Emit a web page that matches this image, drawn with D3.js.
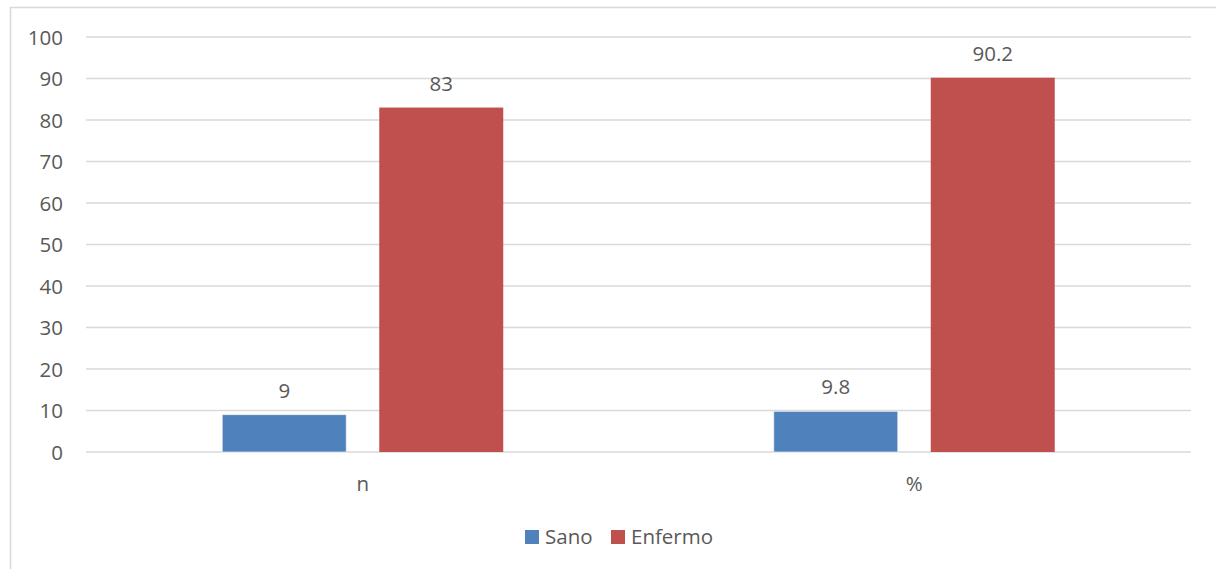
<!DOCTYPE html>
<html><head><meta charset="utf-8">
<script src="https://cdn.jsdelivr.net/npm/d3@7"></script>
<style>body{margin:0;background:#fff}svg{display:block}text{font-family:"Open Sans",sans-serif;fill:#595959}</style>
</head><body><svg id="c" width="1216" height="569"></svg>
<script>
const categories = ["n", "%"];
const seriesNames = ["Sano", "Enfermo"];
const sano = [9, 9.8];
const enfermo = [83, 90.2];
const yTicks = [0,10,20,30,40,50,60,70,80,90,100];
const colors = ["#4F81BD", "#C0504D"];

const svg = d3.select("#c");
svg.append("rect").attr("x",10.5).attr("y",7.5).attr("width",1212).attr("height",570)
  .attr("fill","#fff").attr("stroke","#D9D9D9").attr("stroke-width",1.5);

const L=87, R=1190, T=37, B=452;
const x = d3.scaleBand().domain(categories).range([L,R]);
const y = d3.scaleLinear().domain([0,100]).range([B,T]);
const barW = 124, gap = 33;
const fs = 20.5;

svg.append("g").selectAll("line").data(yTicks).join("line")
  .attr("x1",L-1).attr("x2",R+1).attr("y1",d=>y(d)).attr("y2",d=>y(d))
  .attr("stroke","#D9D9D9").attr("stroke-width",1.5);

svg.append("g").selectAll("text").data(yTicks).join("text")
  .attr("x",63).attr("y",d=>y(d)+7.5).attr("text-anchor","end")
  .attr("font-size",fs).text(d=>d);

const data = categories.map((c,i)=>({c, vals:[sano[i], enfermo[i]]}));
data.forEach(d=>{
  const cx = x(d.c)+x.bandwidth()/2;
  d.vals.forEach((v,j)=>{
    const bx = j===0 ? cx - gap/2 - barW : cx + gap/2;
    svg.append("rect").attr("x",bx).attr("y",y(v)).attr("width",barW).attr("height",y(0)-y(v))
      .attr("fill",colors[j]).attr("stroke", j===0?"#fff":"none").attr("stroke-opacity",0.6).attr("stroke-width",1);
    svg.append("text").attr("x",bx+barW/2).attr("y",y(v)-17).attr("text-anchor","middle")
      .attr("font-size",fs).attr("fill","#404040").text(v);
  });
  svg.append("text").attr("x",cx).attr("y",491).attr("text-anchor","middle").attr("font-size",fs).text(d.c);
});

const lg = svg.append("g");
const legX = [525, 611];
seriesNames.forEach((s,i)=>{
  lg.append("rect").attr("x",legX[i]).attr("y",530).attr("width",14).attr("height",14).attr("fill",colors[i]);
  lg.append("text").attr("x",legX[i]+20).attr("y",544).attr("font-size",fs).text(s);
});
</script></body></html>
